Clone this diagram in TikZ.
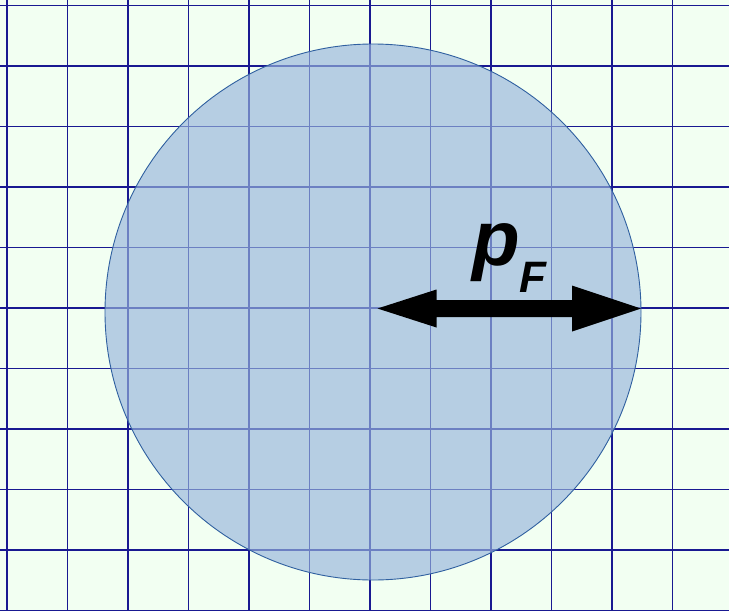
\documentclass[tikz,border=0pt]{standalone}
\usepackage{fontspec}
\setmainfont{Liberation Sans}
\definecolor{bgcol}{RGB}{242,255,242}
\definecolor{gridcol}{RGB}{25,25,145}
\definecolor{circfill}{RGB}{152,182,220}
\definecolor{circline}{RGB}{48,96,160}
\tikzset{
  gridline/.style={draw=gridcol, line width=1.1pt},
  fermi/.style={fill=circfill, fill opacity=0.66, draw=circline, draw opacity=1, line width=0.9pt},
  arrowshape/.style={fill=black},
  bigp/.style={font=\fontsize{78}{80}\selectfont\bfseries\itshape, inner sep=0pt},
  subf/.style={font=\fontsize{44}{46}\selectfont\bfseries\itshape, inner sep=0pt}
}
\begin{document}
\begin{tikzpicture}[x=1pt,y=-1pt]
\useasboundingbox (0,0) rectangle (729,611);
\fill[bgcol] (0,0) rectangle (729,611);
% grid
\foreach \k in {0,...,11} {
  \draw[gridline] ({7+60.5*\k},0) -- ({7+60.5*\k},611);
}
\foreach \k in {0,...,10} {
  \draw[gridline] (0,{5.5+60.5*\k}) -- (729,{5.5+60.5*\k});
}
% Fermi sphere
\path[fermi] (373,312) circle[radius=268];
% double arrow
\fill[arrowshape] (377.5,308.5) -- (436.5,289.5) -- (436.5,300) -- (572,300) -- (572,285.5)
  -- (641,308.5) -- (572,331.5) -- (572,317) -- (436.5,317) -- (436.5,327.5) -- cycle;
% label
\node[bigp, anchor=base west] (p) at (472,265) {p};
\node[subf, anchor=base west] (f) at (519,292) {F};
\end{tikzpicture}
\end{document}
